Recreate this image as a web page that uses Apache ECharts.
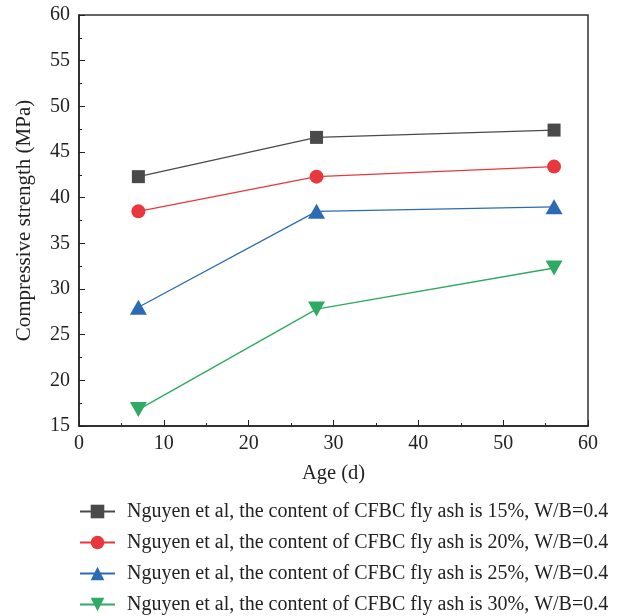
<!DOCTYPE html>
<html><head><meta charset="utf-8">
<script src="https://cdn.jsdelivr.net/npm/echarts@6/dist/echarts.min.js"></script>
<style>html,body{margin:0;padding:0;background:#fff}#c{width:639px;height:616px}</style>
</head><body><div id="c"></div>
<script>
const ages = [7, 28, 56];
const seriesNames = [
  'Nguyen et al, the content of CFBC fly ash is 15%, W/B=0.4',
  'Nguyen et al, the content of CFBC fly ash is 20%, W/B=0.4',
  'Nguyen et al, the content of CFBC fly ash is 25%, W/B=0.4',
  'Nguyen et al, the content of CFBC fly ash is 30%, W/B=0.4'
];
const s15 = [42.3, 46.6, 47.4];
const s20 = [38.5, 42.3, 43.4];
const s25 = [28.0, 38.5, 39.0];
const s30 = [16.8, 27.8, 32.3];

const values = [s15, s20, s25, s30];
const colors = ['#4a4a4a', '#e8383d', '#2b6bb5', '#2eaa62'];
const symbols = ['rect', 'circle', 'triangle', 'path://M0,0 L10,0 L5,9 Z'];
const sizes = [[13,13], 14, [17,15], [17,15]];
const font = 'Liberation Serif';

const chart = echarts.init(document.getElementById('c'));
chart.setOption({
  animation: false,
  textStyle: {fontFamily: font},
  grid: {left: 79, right: 51, top: 15, bottom: 190, show: true, borderColor: '#333', borderWidth: 1.5},
  xAxis: {
    type: 'value', min: 0, max: 60, interval: 10,
    name: 'Age (d)', nameLocation: 'middle', nameGap: 37,
    nameTextStyle: {fontFamily: font, fontSize: 20.5, color: '#222'},
    axisLine: {lineStyle: {color: '#222', width: 1.5}},
    axisTick: {inside: true, length: 6, lineStyle: {color: '#222'}},
    minorTick: {show: true, splitNumber: 2, length: 3, lineStyle: {color: '#222'}},
    axisLabel: {fontFamily: font, fontSize: 20, color: '#222', margin: 8},
    splitLine: {show: false}
  },
  yAxis: {
    type: 'value', min: 15, max: 60, interval: 5,
    name: 'Compressive strength (MPa)', nameLocation: 'middle', nameGap: 44,
    nameTextStyle: {fontFamily: font, fontSize: 21, color: '#222'},
    axisLine: {lineStyle: {color: '#222', width: 1.5}},
    axisTick: {inside: true, length: 6, lineStyle: {color: '#222'}},
    minorTick: {show: true, splitNumber: 2, length: 3, lineStyle: {color: '#222'}},
    axisLabel: {fontFamily: font, fontSize: 20, color: '#222', margin: 9},
    splitLine: {show: false}
  },
  legend: seriesNames.map((n, i) => ({
    orient: 'vertical', left: 79, top: 501.5 + i * 31, padding: 0,
    itemWidth: 35, itemHeight: 17,
    textStyle: {fontFamily: font, fontSize: 20, color: '#222', lineHeight: 19, padding: [0,0,0,7]},
    data: [n]
  })),
  series: seriesNames.map((n, i) => ({
    name: n, type: 'line',
    data: ages.map((a, j) => [a, values[i][j]]),
    symbol: symbols[i], symbolSize: sizes[i],
    lineStyle: {color: colors[i], width: 1.3},
    itemStyle: {color: colors[i]}
  }))
});
</script></body></html>
